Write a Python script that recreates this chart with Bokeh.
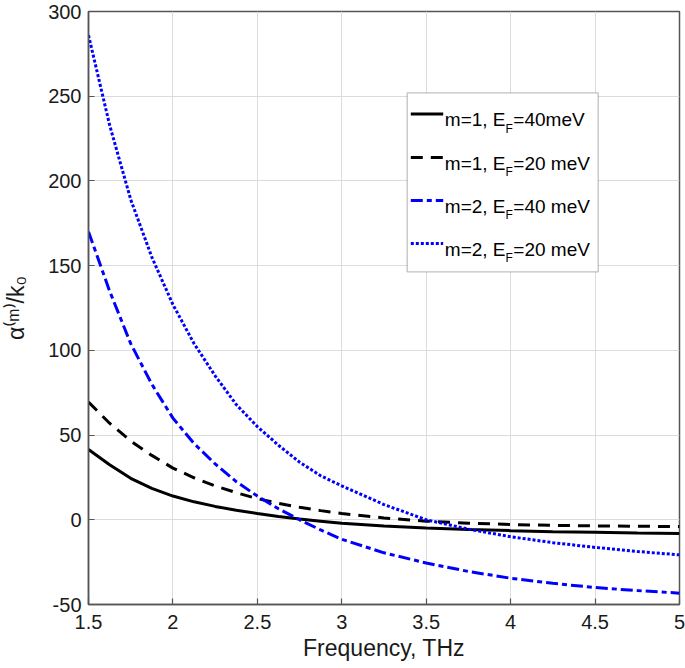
from bokeh.plotting import figure
from bokeh.models import Range1d, FixedTicker, BoxAnnotation, Arrow, Label
from bokeh.embed import file_html
from bokeh.resources import INLINE

# ---------------- data ----------------
freq = [1.5, 1.625, 1.75, 1.875, 2.0, 2.125, 2.25, 2.375, 2.5, 2.625, 2.75,
        2.875, 3.0, 3.25, 3.5, 3.75, 4.0, 4.25, 4.5, 4.75, 5.0]

m1_ef40 = [41.5, 32.5, 24.5, 18.5, 14.0, 10.6, 7.9, 5.6, 3.7, 2.0, 0.5,
           -0.8, -2.1, -3.7, -4.8, -5.7, -6.4, -7.0, -7.4, -7.8, -8.1]
m1_ef20 = [69.5, 57.0, 46.5, 38.0, 30.5, 24.8, 20.0, 16.0, 12.5, 9.7, 7.4,
           5.4, 3.7, 1.1, -0.8, -2.0, -2.8, -3.3, -3.6, -3.8, -4.0]
m2_ef40 = [170.0, 135.0, 104.0, 80.0, 60.0, 45.0, 33.0, 22.5, 14.0, 6.5, 0.0,
           -6.0, -11.5, -19.5, -25.5, -30.5, -34.5, -37.5, -40.0, -41.8, -43.3]
m2_ef20 = [286.0, 233.0, 189.0, 155.0, 127.0, 104.0, 85.0, 68.0, 55.0, 44.0,
           34.0, 26.0, 20.0, 9.0, 0.0, -5.5, -10.0, -13.5, -16.3, -18.7, -20.7]

x_ticks = [1.5, 2, 2.5, 3, 3.5, 4, 4.5, 5]
x_tick_labels = ["1.5", "2", "2.5", "3", "3.5", "4", "4.5", "5"]
y_ticks = [-50, 0, 50, 100, 150, 200, 250, 300]
y_tick_labels = ["-50", "0", "50", "100", "150", "200", "250", "300"]

legend_head = ["m=1, E", "m=1, E", "m=2, E", "m=2, E"]
legend_sub = ["F", "F", "F", "F"]
legend_tail = ["=40meV", "=20 meV", "=40 meV", "=20 meV"]

x_label = "Frequency, THz"
y_label = "α⁽ᵐ⁾/k₀"

# ---------------- styling ----------------
FONT = "Liberation Sans"
TXT = "#1a1a1a"
AX = "#555555"
GRID = "#dcdcdc"

p = figure(width=685, height=668,
           x_range=Range1d(1.5, 5), y_range=Range1d(-50, 300),
           output_backend="svg", toolbar_location=None,
           min_border_left=87, min_border_right=6,
           min_border_top=11, min_border_bottom=64)
p.background_fill_color = "white"
p.border_fill_color = "white"
p.outline_line_color = AX
p.outline_line_width = 1.5

def key(v):
    return int(v) if float(v).is_integer() else v

for ax, ticks, labels in ((p.xaxis[0], x_ticks, x_tick_labels),
                          (p.yaxis[0], y_ticks, y_tick_labels)):
    ax.ticker = FixedTicker(ticks=ticks)
    ax.major_label_overrides = {key(t): l for t, l in zip(ticks, labels)}
    ax.minor_tick_line_color = None
    ax.major_tick_in = 6
    ax.major_tick_out = 0
    ax.major_tick_line_color = AX
    ax.major_tick_line_width = 1.2
    ax.axis_line_color = AX
    ax.axis_line_width = 1.5
    ax.major_label_text_font = FONT
    ax.major_label_text_font_size = "20px"
    ax.major_label_text_color = TXT
    ax.axis_label_text_font = FONT
    ax.axis_label_text_font_size = "23px"
    ax.axis_label_text_font_style = "normal"
    ax.axis_label_text_color = TXT

p.xaxis.axis_label = x_label
p.yaxis.axis_label = y_label
p.xaxis.major_label_standoff = 10
p.xaxis.axis_label_standoff = 3
p.yaxis.major_label_standoff = 7
p.yaxis.axis_label_standoff = 16

p.xgrid.ticker = FixedTicker(ticks=x_ticks)
p.ygrid.ticker = FixedTicker(ticks=y_ticks)
p.grid.grid_line_color = GRID
p.grid.grid_line_width = 1

# ---------------- curves ----------------
styles = [
    (m1_ef40, "black", "solid"),
    (m1_ef20, "black", "12 8"),
    (m2_ef40, "#0000ff", "12 4 5 4"),
    (m2_ef20, "#0000ff", "3 2"),
]
for ys, col, dash in styles:
    p.line(freq, ys, line_color=col, line_width=3, line_dash=dash)

# ---------------- character widths (Arial metrics) ----------------
W = {'m': 0.833, '=': 0.584, '1': 0.556, '2': 0.556, ',': 0.278, ' ': 0.278,
     'E': 0.667, 'F': 0.611, '4': 0.556, '0': 0.556, 'e': 0.556, 'V': 0.667}

def tw(s, size):
    return sum(W[c] for c in s) * size

# ---------------- legend (screen units, from frame bottom-left) ----------------
box_l, box_r, box_t, box_b = 318.7, 509.7, 511.7, 332.7
p.add_layout(BoxAnnotation(left=box_l, right=box_r, top=box_t, bottom=box_b,
                           left_units="screen", right_units="screen",
                           top_units="screen", bottom_units="screen",
                           fill_color="white", fill_alpha=1.0,
                           line_color="#333333", line_width=1.3))

LF = 19
SF = 12
baselines = [484.9, 441.4, 398.4, 355.4]
text_x = 356.3
for i, (ys, col, dash) in enumerate(styles):
    b = baselines[i]
    p.add_layout(Arrow(x_start=322.3, y_start=b + 5.5, x_end=354.7,
                       y_end=b + 5.5, start_units="screen", end_units="screen",
                       start=None, end=None, line_color=col, line_width=3,
                       line_dash=dash))
    x0 = text_x
    p.add_layout(Label(x=x0, y=b, x_units="screen", y_units="screen",
                       text=legend_head[i], text_font=FONT,
                       text_font_size=f"{LF}px", text_color="black",
                       text_baseline="alphabetic", text_align="left"))
    x1 = x0 + tw(legend_head[i], LF)
    p.add_layout(Label(x=x1, y=b - 9, x_units="screen", y_units="screen",
                       text=legend_sub[i], text_font=FONT,
                       text_font_size=f"{SF}px", text_color="black",
                       text_baseline="alphabetic", text_align="left"))
    x2 = x1 + tw(legend_sub[i], SF) + 0.5
    p.add_layout(Label(x=x2, y=b, x_units="screen", y_units="screen",
                       text=legend_tail[i], text_font=FONT,
                       text_font_size=f"{LF}px", text_color="black",
                       text_baseline="alphabetic", text_align="left"))

open("out.html", "w").write(file_html(p, INLINE))
